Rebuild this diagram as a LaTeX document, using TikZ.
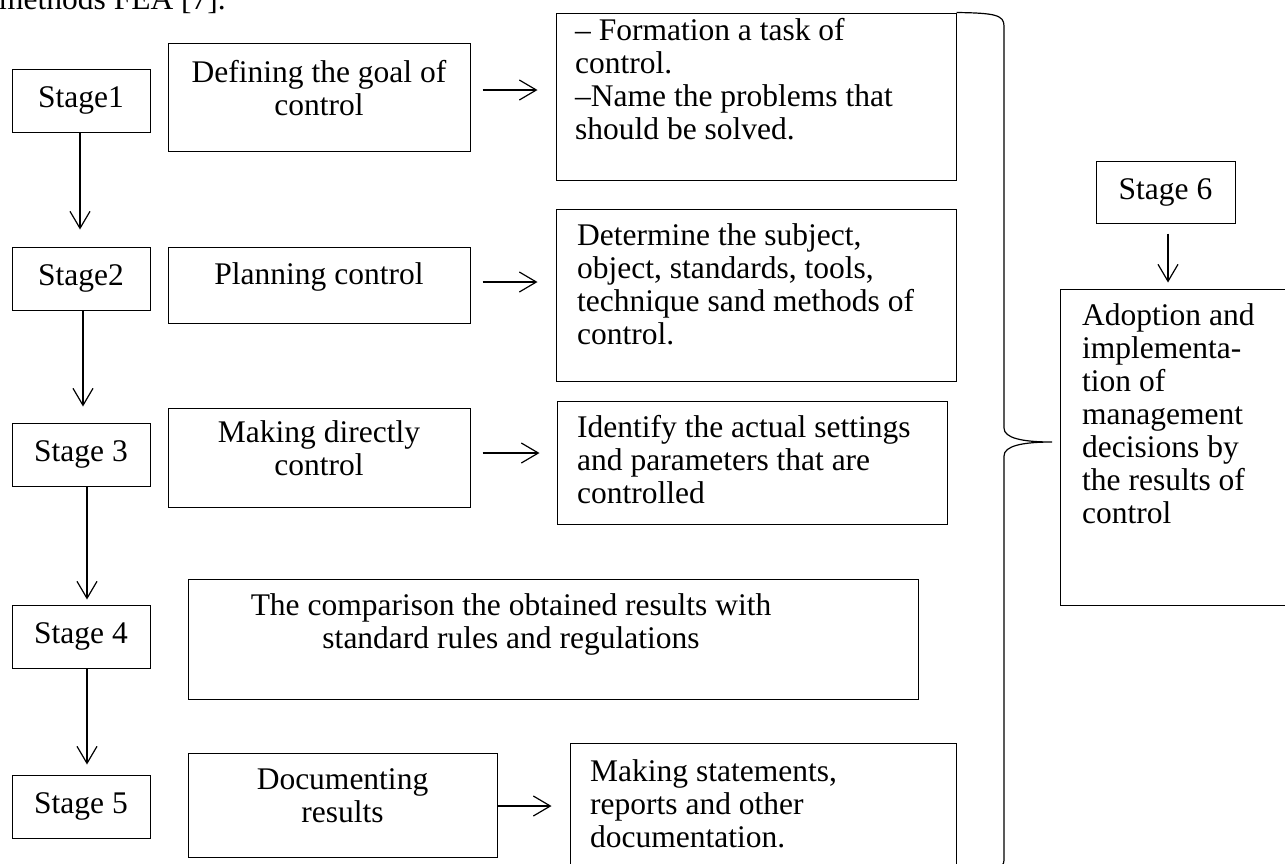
\documentclass[tikz,border=0pt]{standalone}
\usepackage{fontspec}
\setmainfont{Liberation Serif}
\usetikzlibrary{arrows.meta,calc}
\begin{document}
\begin{tikzpicture}[x=1pt,y=-1pt,
  every node/.style={font=\fontsize{31.5}{33}\selectfont},
  box/.style={draw, line width=1pt, inner sep=0pt, rectangle},
  stagebox/.style={box, minimum width=138pt, minimum height=63pt},
  txt/.style={inner sep=0pt, align=left, anchor=north west},
  ctxt/.style={inner sep=0pt, align=center, anchor=north},
  arr/.style={line width=1.2pt, -{Straight Barb[length=17pt,width=20pt]}},
  brace/.style={line width=1.2pt}]
\useasboundingbox (0,0) rectangle (1285,863);
\clip (0,0) rectangle (1285,863);

\node[anchor=base west, inner sep=0pt] (toptext) at (-1,9) {methods FEA [7].};

% stage boxes
\node[stagebox] (s1) at (81,100.5) {Stage1};
\node[stagebox] (s2) at (81,278.5) {Stage2};
\node[stagebox] (s3) at (81,454.5) {Stage 3};
\node[stagebox] (s4) at (81,636.5) {Stage 4};
\node[stagebox] (s5) at (81,806.5) {Stage 5};
\node[box, minimum width=139pt, minimum height=62pt] (s6) at (1165.5,192) {Stage 6};

% middle column
\node[box, minimum width=302pt, minimum height=108pt] (def) at (319,97) {};
\node[ctxt] (deft) at (319,58.9) {\strut Defining the goal of\\control};
\node[box, minimum width=302pt, minimum height=76pt] (plan) at (319,285) {};
\node[ctxt] (plant) at (319,260.9) {\strut Planning control};
\node[box, minimum width=302pt, minimum height=99pt] (mdir) at (319,457.5) {};
\node[ctxt] (mdirt) at (319,418.9) {\strut Making directly\\control};
\node[box, minimum width=730pt, minimum height=120pt] (comp) at (553,639) {};
\node[ctxt] (compt) at (511,591.9) {\strut The comparison the obtained results with\\standard rules and regulations};
\node[box, minimum width=309pt, minimum height=104pt] (doc) at (342.5,805) {};
\node[ctxt] (doct) at (342.5,765.9) {\strut Documenting\\results};

% right column
\node[box, minimum width=400pt, minimum height=167pt] (form) at (756,96.5) {};
\node[txt] (formt) at (575,16.9) {\strut – Formation a task of\\control.\\–Name the problems that\\should be solved.};
\node[box, minimum width=400pt, minimum height=172pt] (det) at (756,295) {};
\node[txt] (dett) at (577,221.9) {\strut Determine the subject,\\object, standards, tools,\\technique sand methods of\\control.};
\node[box, minimum width=390pt, minimum height=123pt] (ident) at (752,462.5) {};
\node[txt] (identt) at (577,413.9) {\strut Identify the actual settings\\and parameters that are\\controlled};
\node[box, minimum width=386pt, minimum height=137pt] (stat) at (763,811.5) {};
\node[txt] (statt) at (590,757.9) {\strut Making statements,\\reports and other\\documentation.};

% stage 6 result
\node[box, minimum width=240pt, minimum height=316pt] (adopt) at (1180,447) {};
\node[txt] (adoptt) at (1082,301.9) {\strut Adoption and\\implementa-\\tion of\\management\\decisions by\\the results of\\control};

% vertical arrows
\draw[arr, shorten >=17pt] ([xshift=-1pt]s1.south) -- ([xshift=-1pt]s2.north);
\draw[arr, shorten >=16pt] ([xshift=2pt]s2.south) -- ([xshift=2pt]s3.north);
\draw[arr, shorten >=5pt] ([xshift=6pt]s3.south) -- ([xshift=6pt]s4.north);
\draw[arr, shorten >=10pt] ([xshift=6pt]s4.south) -- ([xshift=6pt]s5.north);
\draw[arr, shorten <=10pt, shorten >=6pt] ($(s6.south)+(2.5,0)$) -- ($(s6.south |- adopt.north)+(2.5,0)$);

% horizontal arrows
\draw[arr, shorten <=12pt, shorten >=18pt] ($(def.east)+(0,-7)$) -- ($(form.west |- def.east)+(0,-7)$);
\draw[arr, shorten <=12pt, shorten >=18pt] ($(plan.east)+(0,-3)$) -- ($(det.west |- plan.east)+(0,-3)$);
\draw[arr, shorten <=12pt, shorten >=17pt] ($(mdir.east)+(0,-4.5)$) -- ($(ident.west |- mdir.east)+(0,-4.5)$);
\draw[arr, shorten >=18pt] ($(doc.east)+(0,1)$) -- ($(stat.west |- doc.east)+(0,1)$);

% brace
\coordinate (bracetip) at (1052,442);
\draw[brace] (form.north east) .. controls (995,13) and (1004,15) .. (1004,26)
  -- (1004,428) .. controls (1004,438) and (1022,442) .. (bracetip)
  .. controls (1022,442) and (1004,446) .. (1004,456)
  -- (1004,860) .. controls (1004,869) and (995,871) .. (956,871);
\end{tikzpicture}
\end{document}
